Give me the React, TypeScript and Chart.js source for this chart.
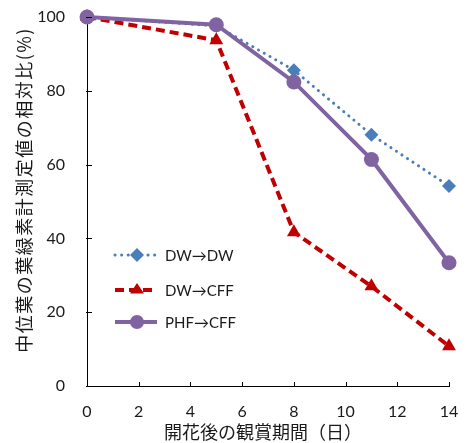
import React, { useEffect, useRef } from "react";
import { Chart, registerables } from "chart.js";

Chart.register(...registerables);

const days = [0, 5, 8, 11, 14];
const seriesNames = ["DW→DW", "DW→CFF", "PHF→CFF"];
const dwdw = [100, 97.6, 85.6, 68.1, 54.2];
const dwcff = [100, 93.7, 41.7, 27.0, 10.8];
const phfcff = [100, 97.9, 82.4, 61.4, 33.4];
const xTicks = [0, 2, 4, 6, 8, 10, 12, 14];
const yTicks = [0, 20, 40, 60, 80, 100];
const xTitle = "開花後の観賞期間（日）";
const yTitle = "中位葉の葉緑素計測定値の相対比(%)";

const BLUE = "#4a7ebb";
const RED = "#c00000";
const PURPLE = "#8064a2";
const TEXT = "#1a1a1a";
const TICK_FONT = "Lato, 'Noto Sans CJK JP', sans-serif";
const JP_FONT = "'Noto Sans CJK JP', sans-serif";

const toPts = (ys: number[]) => days.map((d, i) => ({ x: d, y: ys[i] }));

function drawPoint(ctx: CanvasRenderingContext2D, style: string, r: number, x: number, y: number) {
  ctx.beginPath();
  if (style === "circle") {
    ctx.arc(x, y, r, 0, Math.PI * 2);
  } else if (style === "rectRot") {
    ctx.moveTo(x, y - r);
    ctx.lineTo(x + r, y);
    ctx.lineTo(x, y + r);
    ctx.lineTo(x - r, y);
    ctx.closePath();
  } else {
    const h = r * 1.5;
    ctx.moveTo(x, y - h * 0.66);
    ctx.lineTo(x + r, y + h * 0.34);
    ctx.lineTo(x - r, y + h * 0.34);
    ctx.closePath();
  }
  ctx.fill();
}

const decorPlugin = {
  id: "decor",
  afterDraw(chart: any) {
    const { ctx, chartArea, scales } = chart;
    const xs = scales.x;
    const ys = scales.y;
    ctx.save();
    ctx.strokeStyle = "#000";
    ctx.lineWidth = 1;
    ctx.beginPath();
    yTicks.forEach((v) => {
      const py = Math.round(ys.getPixelForValue(v)) + 0.5;
      ctx.moveTo(chartArea.left - 1, py);
      ctx.lineTo(chartArea.left + 5, py);
    });
    xTicks.forEach((v) => {
      const px = Math.round(xs.getPixelForValue(v)) + 0.5;
      ctx.moveTo(px, chartArea.bottom + 1);
      ctx.lineTo(px, chartArea.bottom - 4);
    });
    ctx.stroke();

    ctx.fillStyle = TEXT;
    ctx.font = `18px ${JP_FONT}`;
    ctx.textAlign = "center";
    ctx.textBaseline = "middle";
    ctx.fillText(xTitle, 263, 432);
    ctx.save();
    (ctx as any).letterSpacing = "1.5px";
    ctx.translate(24, 190);
    ctx.rotate(-Math.PI / 2);
    ctx.fillText(yTitle, 0, 0);
    ctx.restore();

    const rows = [
      { name: seriesNames[0], color: BLUE, dash: [0.1, 6.5], cap: "round", width: 3, style: "rectRot", r: 7 },
      { name: seriesNames[1], color: RED, dash: [9, 5], cap: "butt", width: 4, style: "triangle", r: 7 },
      { name: seriesNames[2], color: PURPLE, dash: [], cap: "butt", width: 4, style: "circle", r: 7 },
    ];
    const rowY = [255, 290, 322];
    rows.forEach((r, i) => {
      const y = rowY[i];
      ctx.save();
      ctx.strokeStyle = r.color;
      ctx.lineWidth = r.width;
      ctx.lineCap = r.cap as CanvasLineCap;
      ctx.setLineDash(r.dash);
      ctx.beginPath();
      ctx.moveTo(115, y);
      ctx.lineTo(157, y);
      ctx.stroke();
      ctx.setLineDash([]);
      ctx.fillStyle = r.color;
      drawPoint(ctx, r.style, r.r, 137, y);
      ctx.restore();
      ctx.fillStyle = TEXT;
      ctx.font = `15px ${TICK_FONT}`;
      ctx.textAlign = "left";
      ctx.textBaseline = "middle";
      ctx.fillText(r.name, 165, y + 1);
    });
    ctx.restore();
  },
};

export default function App() {
  const ref = useRef<HTMLCanvasElement>(null);
  useEffect(() => {
    document.body.style.margin = "0";
    const chart = new Chart(ref.current!, {
      type: "line",
      data: {
        datasets: [
          {
            label: seriesNames[0],
            data: toPts(dwdw),
            borderColor: BLUE,
            backgroundColor: BLUE,
            borderWidth: 3,
            borderDash: [0.1, 6.5],
            borderCapStyle: "round",
            pointStyle: "rectRot",
            pointRadius: 7,
            pointBorderWidth: 0,
            order: 3,
          },
          {
            label: seriesNames[1],
            data: toPts(dwcff),
            borderColor: RED,
            backgroundColor: RED,
            borderWidth: 4,
            borderDash: [9, 5],
            pointStyle: "triangle",
            pointRadius: 8,
            pointBorderWidth: 0,
            order: 2,
          },
          {
            label: seriesNames[2],
            data: toPts(phfcff),
            borderColor: PURPLE,
            backgroundColor: PURPLE,
            borderWidth: 4,
            pointStyle: "circle",
            pointRadius: 7.5,
            pointBorderWidth: 0,
            order: 1,
          },
        ],
      },
      options: {
        animation: false,
        responsive: false,
        clip: false as any,
        layout: { padding: { left: 0, right: 19, top: 17, bottom: 0 } },
        plugins: { legend: { display: false }, tooltip: { enabled: false } },
        scales: {
          x: {
            type: "linear",
            min: 0,
            max: 14,
            afterFit: (s: any) => {
              s.height = 57;
              s.paddingLeft = 0;
              s.paddingRight = 0;
            },
            afterBuildTicks: (s: any) => {
              s.ticks = xTicks.map((v) => ({ value: v }));
            },
            grid: { display: false, drawTicks: false },
            border: { display: true, color: "#000", width: 1 },
            ticks: {
              padding: 16,
              color: TEXT,
              font: { family: TICK_FONT, size: 16 },
              maxRotation: 0,
            },
          },
          y: {
            type: "linear",
            min: 0,
            max: 100,
            afterFit: (s: any) => {
              s.width = 87;
              s.paddingTop = 0;
              s.paddingBottom = 0;
            },
            afterBuildTicks: (s: any) => {
              s.ticks = yTicks.map((v) => ({ value: v }));
            },
            grid: { display: false, drawTicks: false },
            border: { display: true, color: "#000", width: 1 },
            ticks: {
              padding: 22,
              color: TEXT,
              font: { family: TICK_FONT, size: 16 },
            },
          },
        },
      },
      plugins: [decorPlugin],
    });
    return () => chart.destroy();
  }, []);
  return <canvas ref={ref} width={468} height={443} style={{ display: "block" }} />;
}
